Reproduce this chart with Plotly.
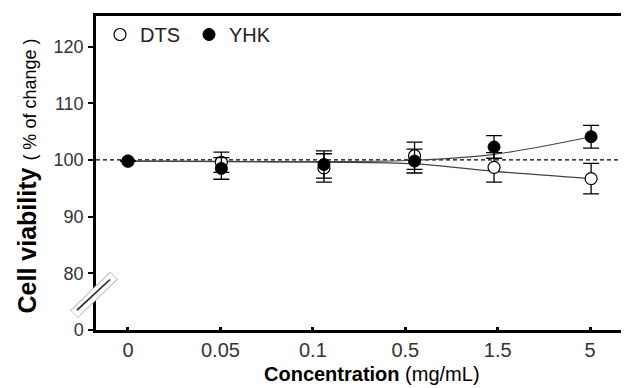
import plotly.graph_objects as go

# ---- data ----
x_labels = ['0', '0.05', '0.1', '0.5', '1.5', '5']
x_pos = [0, 1.01, 2.12, 3.10, 3.96, 5.01]

dts_mean = [99.8, 99.6, 98.6, 100.75, 98.7, 96.7]
dts_err = [0, 1.8, 2.5, 2.4, 2.6, 2.7]
yhk_mean = [99.8, 98.5, 99.2, 99.8, 102.3, 104.1]
yhk_err = [0, 1.9, 2.4, 2.1, 2.0, 2.0]

dts_fit = [99.8, 99.75, 99.6, 99.3, 98.0, 96.7]
yhk_fit = [99.8, 99.7, 99.7, 99.95, 101.0, 104.1]

y_tickvals = [70, 80, 90, 100, 110, 120]
y_ticktext = ['0', '80', '90', '100', '110', '120']

# page body has an 8px margin: work in screen pixels and subtract it
OFF = 8
W, H = 629, 388
L, R, T, B = 96 - OFF, 629 - OFF, 13 - OFF, 330 - OFF


def px(x):
    return (x - OFF - L) / (R - L)


def py(y):
    return (B - (y - OFF)) / (B - T)


fig = go.Figure()

fig.add_trace(go.Scatter(x=x_pos, y=dts_fit, mode='lines', line=dict(color='#444', width=1.2, shape='spline'),
                         showlegend=False, hoverinfo='skip'))
fig.add_trace(go.Scatter(x=x_pos, y=yhk_fit, mode='lines', line=dict(color='#444', width=1.2, shape='spline'),
                         showlegend=False, hoverinfo='skip'))

fig.add_trace(go.Scatter(
    x=x_pos, y=dts_mean, mode='markers', name='DTS',
    marker=dict(symbol='circle', size=12, color='white', line=dict(color='black', width=1.2)),
    error_y=dict(type='data', array=dts_err, color='black', thickness=1.3, width=8),
))
fig.add_trace(go.Scatter(
    x=x_pos, y=yhk_mean, mode='markers', name='YHK',
    marker=dict(symbol='circle', size=12, color='black', line=dict(color='black', width=1)),
    error_y=dict(type='data', array=yhk_err, color='black', thickness=1.3, width=8),
))

shapes = [
    dict(type='line', xref='paper', yref='y', x0=0, x1=1, y0=100, y1=100,
         line=dict(color='black', width=1.3, dash='4px,3px'), layer='below'),
    # axis break marker
    dict(type='line', xref='paper', yref='paper', x0=px(74), y0=py(314), x1=px(114), y1=py(275),
         line=dict(color='#bbb', width=11)),
    dict(type='line', xref='paper', yref='paper', x0=px(74.5), y0=py(313.5), x1=px(113.5), y1=py(275.5),
         line=dict(color='white', width=9)),
    dict(type='line', xref='paper', yref='paper', x0=px(77), y0=py(310), x1=px(110), y1=py(279),
         line=dict(color='#222', width=1.6)),
]

annotations = [
    dict(text="<b>Cell viability</b> <span style='font-size:18px'>( % of change )</span>",
         xref='paper', yref='paper', x=px(27), y=py(175), textangle=-90,
         xanchor='center', yanchor='middle', showarrow=False,
         font=dict(size=25, color='black', family='Liberation Sans, Arial')),
    dict(text="<b>Concentration</b> (mg/mL)",
         xref='paper', yref='paper', x=px(372), y=py(374),
         xanchor='center', yanchor='middle', showarrow=False,
         font=dict(size=20, color='black', family='Liberation Sans, Arial')),
]

fig.update_layout(
    width=W, height=H,
    margin=dict(l=L, r=W - R, t=T, b=H - B, pad=0),
    paper_bgcolor='white', plot_bgcolor='white',
    font=dict(family='Liberation Sans, Arial', color='#333'),
    shapes=shapes, annotations=annotations,
    legend=dict(orientation='h', x=px(100), y=py(12), xanchor='left', yanchor='top',
                font=dict(size=20, color='#222'), bgcolor='rgba(0,0,0,0)',
                entrywidth=44, entrywidthmode='pixels', itemclick=False),
    xaxis=dict(range=[-0.346, 5.42], tickvals=list(range(len(x_labels))), ticktext=x_labels,
               ticks='inside', ticklen=3, tickwidth=2.5, tickcolor='black',
               showline=True, linewidth=2.5, linecolor='black', mirror=True,
               showgrid=False, zeroline=False, ticklabelstandoff=0,
               tickfont=dict(size=20, color='#333')),
    yaxis=dict(range=[70, 125.4], tickvals=y_tickvals, ticktext=y_ticktext,
               ticks='outside', ticklen=5, tickwidth=1.5, tickcolor='black',
               showline=True, linewidth=2.5, linecolor='black',
               showgrid=False, zeroline=False, ticklabelstandoff=1,
               tickfont=dict(size=18, color='#333')),
)

fig.write_html('out.html')
